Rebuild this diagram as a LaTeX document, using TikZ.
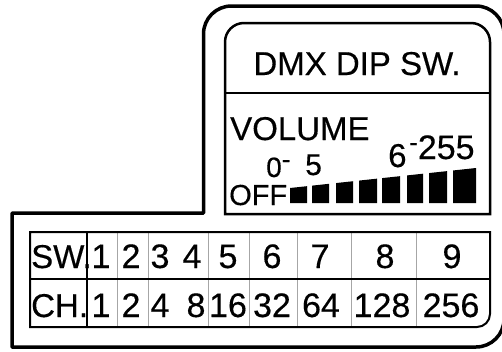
\documentclass[tikz,border=0pt]{standalone}
\usepackage{fontspec}
\setmainfont{Liberation Sans}[FakeBold=0.4]
\tikzset{
  outline/.style={line width=3.5pt, line join=round},
  panel/.style={line width=2.5pt},
  tablerule/.style={line width=2pt},
  divider/.style={line width=0.8pt, black!35},
  txt/.style={anchor=base, inner sep=0pt, font=\fontsize{#1}{#1}\selectfont},
}
\begin{document}
\begin{tikzpicture}[x=1pt,y=-1pt]
  \useasboundingbox (0,0) rectangle (502,351);
  % housing
  \draw[outline] (12,347) -- (12,213) -- (203.5,213) [rounded corners=28pt] -- (203.5,6) -- (504,6) -- (504,347) [sharp corners] -- cycle;
  % dip switch panel
  \draw[panel] (225,214) [rounded corners=19pt] -- (225,23) -- (490,23) [sharp corners] -- (490,214) -- cycle;
  \draw[panel] (225,93) -- (490,93);
  \node[txt=33] (title) at (357,75) {DMX DIP SW.};
  \node[txt=33, anchor=base west] (volume) at (230,140) {VOLUME};
  \node[txt=28, anchor=base west] (lo) at (266,177) {0\raisebox{9pt}{\fontsize{26}{26}\selectfont -}};
  \node[txt=30, anchor=base west] (lohi) at (305,175) {5};
  \node[txt=33, anchor=base west] (hilo) at (388,167) {6};
  \node[txt=34, anchor=base west] (hihi) at (409,159) {\raisebox{8pt}{\fontsize{26}{26}\selectfont -}255};
  \node[txt=29, anchor=base west] (off) at (229,205) {OFF};
  % volume bars
  \foreach \a/\b in {290/307, 312/329, 336/353, 359/377, 382/400, 407/423, 429/447, 453/476}
    \fill (\a,203) -- (\b,203) -- (\b,{188-(\b-290)*20/186}) -- (\a,{188-(\a-290)*20/186}) -- cycle;
  % table
  \foreach \x in {117,148,208,249,297,351,416}
    \draw[divider] (\x,232) -- (\x,327);
  \draw[line width=1.5pt] (87,232) -- (87,327);
  \draw[tablerule] (30,279) -- (490,279);
  \draw[tablerule] (30,232) -- (490,232) [rounded corners=13pt] -- (490,327) [sharp corners] -- (30,327) -- cycle;
  \node[txt=33, anchor=base west] (swhead) at (31,268) {SW.};
  \node[txt=33, anchor=base west] (chhead) at (31,317) {CH.};
  \foreach \x/\t [count=\i] in {101/1, 131/2, 160/3, 192/4, 228/5, 272/6, 320/7, 385/8, 452/9}
    \node[txt=34] (sw\i) at (\x,268) {\t};
  \foreach \x/\t [count=\i] in {101/1, 131/2, 160/4, 196/8, 228/16, 272/32, 321/64, 382/128, 451/256}
    \node[txt=34] (ch\i) at (\x,317) {\t};
\end{tikzpicture}
\end{document}
